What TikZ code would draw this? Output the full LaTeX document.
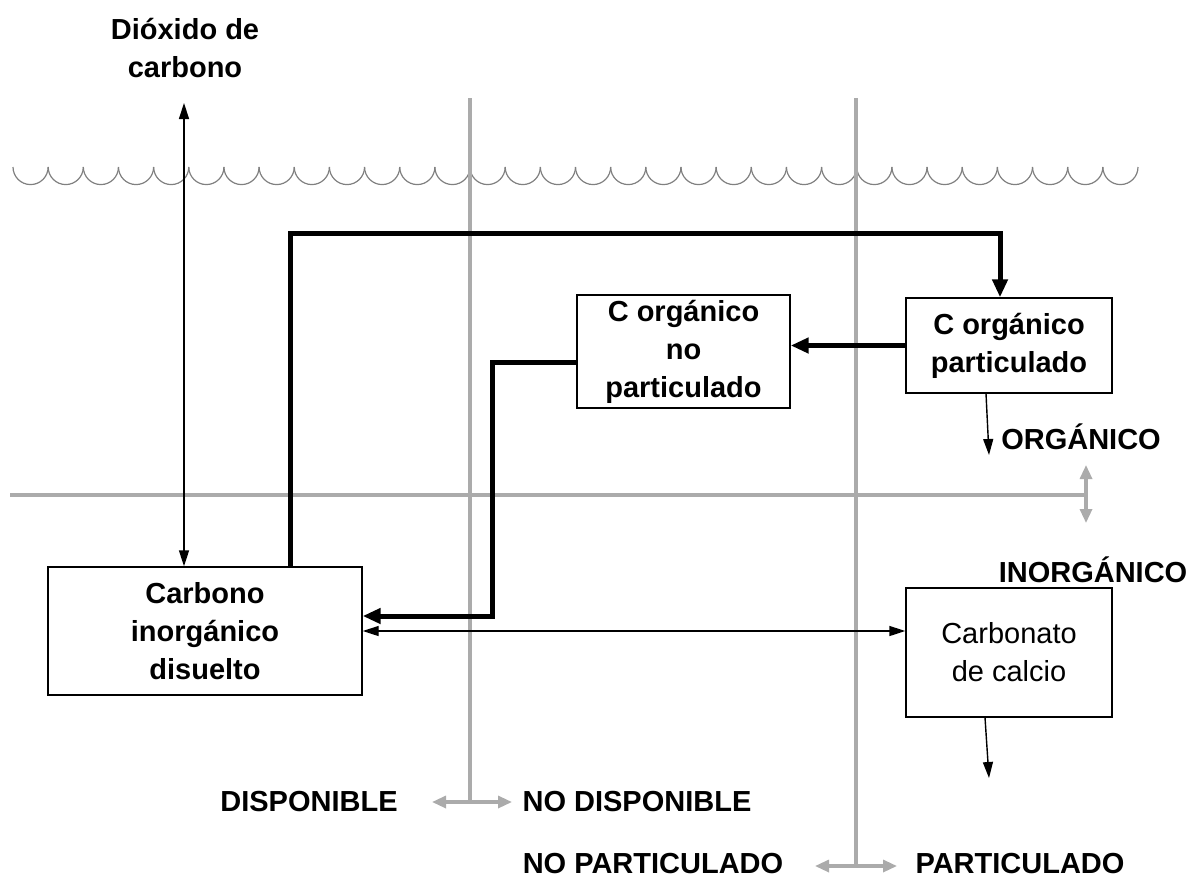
\documentclass[tikz,border=0pt]{standalone}
\usepackage{fontspec}
\setmainfont{Liberation Sans}
\usetikzlibrary{arrows.meta}

\begin{document}
\begin{tikzpicture}[x=0.5pt,y=-0.5pt,
  txt/.style={font=\fontsize{14.5}{19}\selectfont\bfseries, align=center, inner sep=0pt},
  box/.style={draw, line width=0.7pt, font=\fontsize{14.5}{19}\selectfont\bfseries, align=center, inner sep=0pt},
  grayline/.style={draw=black!33, line width=1.6pt},
  grayarrow/.style={draw=black!33, fill=black!33, line width=1.6pt, {Triangle[length=7pt,width=6pt]}-{Triangle[length=7pt,width=6pt]}},
  thinarrow/.style={line width=0.7pt, -{Triangle[length=8pt,width=5pt]}},
  thickarrow/.style={line width=2.5pt, -{Triangle[length=9pt,width=7.5pt]}}]

\useasboundingbox (0,0) rectangle (1192,878);

% water surface
\foreach \i in {0,...,31}
  \draw[black!50, line width=0.6pt] (13+35.156*\i,167) arc[start angle=180, end angle=0, radius=17.578];

% gray axes
\draw[grayline] (470,98) -- (470,802);
\draw[grayline] (856,98) -- (856,866);
\draw[grayline] (10,495) -- (1086,495);
\draw[grayarrow] (432,802) -- (512,802);
\draw[grayarrow] (815,866) -- (897,866);
\draw[grayarrow] (1086,465) -- (1086,523);

% labels
\node[txt] (co2) at (185,48) {Dióxido de\\carbono};
\node[txt] (org) at (1081,437) {ORGÁNICO};
\node[txt] (inorg) at (1093,570) {INORGÁNICO};
\node[txt] (disp) at (309,802) {DISPONIBLE};
\node[txt] (nodisp) at (637,802) {NO DISPONIBLE};
\node[txt] (nopart) at (653,864) {NO PARTICULADO};
\node[txt] (part) at (1020,864) {PARTICULADO};

% boxes
\node[box, minimum width=157pt, minimum height=64pt] (cid) at (205,631) {Carbono\\inorgánico\\disuelto};
\node[box, minimum width=106.5pt, minimum height=56.5pt] (pnp) at (683.5,351.5) {C orgánico\\no\\particulado};
\node[box, minimum width=103pt, minimum height=47.5pt] (pod) at (1009,345.5) {C orgánico\\particulado};
\node[box, font=\fontsize{14.5}{19}\selectfont, minimum width=103pt, minimum height=64.5pt] (cac) at (1009,652.5) {Carbonato\\de calcio};

% connectors
\coordinate (co2end) at (184,103);
\draw[line width=0.7pt, {Triangle[length=8pt,width=5pt]}-{Triangle[length=8pt,width=5pt]}] (co2end) -- (co2end |- cid.north);

\coordinate (k1) at (290,233);
\coordinate (k2) at (1000,233);
\draw[thickarrow, line join=miter] (cid.north -| k1) -- (k1) -- (k2) -- (k2 |- pod.north);

\draw[thickarrow] (pod.west) -- (pod.west -| pnp.east);

\coordinate (k3) at (492,362);
\coordinate (k4) at (492,616);
\draw[thickarrow, line join=miter] (pnp.west |- k3) -- (k3) -- (k4) -- (k4 -| cid.east);

\draw[line width=0.7pt, {Triangle[length=8pt,width=5pt]}-{Triangle[length=8pt,width=5pt]}] (cid.east) -- (cid.east -| cac.west);

\coordinate (o1) at (989,455);
\draw[thinarrow] ([xshift=-11.5pt]pod.south) -- (o1);
\coordinate (o2) at (989,778);
\draw[thinarrow] ([xshift=-12pt]cac.south) -- (o2);

\end{tikzpicture}
\end{document}
